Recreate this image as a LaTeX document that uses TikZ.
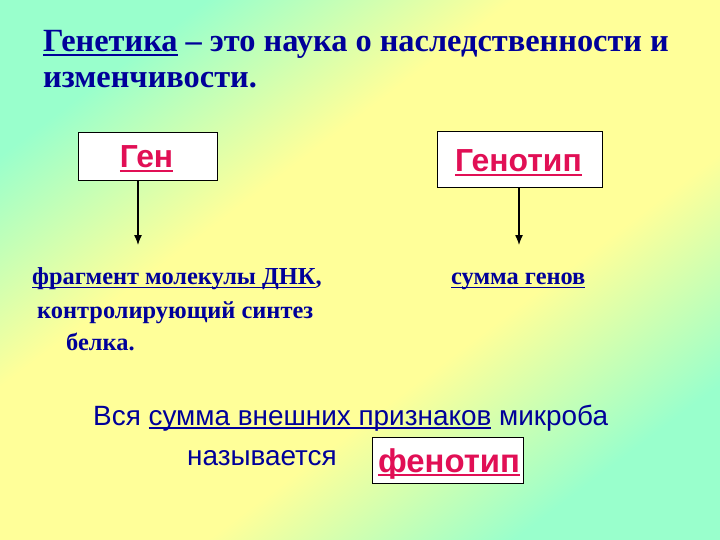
\documentclass[tikz,border=0pt]{standalone}
\usepackage{fontspec}
\setmainfont{Liberation Serif}
\setsansfont{Liberation Sans}
\usetikzlibrary{arrows.meta}
\definecolor{aq}{RGB}{153,255,204}
\definecolor{ye}{RGB}{255,255,153}
\definecolor{tblue}{RGB}{0,0,153}
\definecolor{tred}{RGB}{225,15,85}
\newcommand{\myul}[1]{\leavevmode\setbox0\hbox{#1}\rlap{\rule[-0.13em]{\wd0}{0.065em}}\box0\relax}
\pgfdeclarehorizontalshading{bgshade}{100bp}{color(0bp)=(aq); color(25bp)=(aq); color(40bp)=(ye); color(60bp)=(ye); color(75bp)=(aq); color(100bp)=(aq)}
\tikzset{
  serifbold/.style={text=tblue, font=\fontsize{24.5}{28}\selectfont\bfseries, inner sep=0pt, anchor=base west},
  titletext/.style={text=tblue, font=\fontsize{32.5}{38}\selectfont\bfseries, inner sep=0pt, anchor=base west},
  sanstext/.style={text=tblue, font=\fontsize{28}{32}\selectfont\sffamily, inner sep=0pt, anchor=base west},
  termbox/.style={draw=black, line width=1pt, fill=white, inner sep=0pt},
  termtext/.style={text=tred, inner sep=0pt, anchor=base},
  arr/.style={-{Latex[length=10pt,width=8pt]}, line width=1.3pt, black}
}
\begin{document}
\begin{tikzpicture}[x=1bp,y=-1bp]
\useasboundingbox (0,0) rectangle (720,540);
\shade[shading=bgshade, shading angle=-53] (0,0) rectangle (720,540);
% title
\node[titletext] (t1) at (43,52) {\myul{Генетика} – это наука о наследственности и};
\node[titletext] (t2) at (43,88) {изменчивости.};
% boxes
\node[termbox, minimum width=139bp, minimum height=48bp, anchor=north west] (gen) at (78,132) {};
\node[termtext, font=\fontsize{32}{34}\selectfont\sffamily\bfseries] (gent) at (146.5,168) {\myul{Ген}};
\node[termbox, minimum width=165bp, minimum height=56bp, anchor=north west] (genotype) at (437,131) {};
\node[termtext, font=\fontsize{32}{34}\selectfont\sffamily\bfseries] (genotypet) at (518.5,172) {\myul{Генотип}};
% arrow targets
\coordinate (a1) at (138,245);
\coordinate (a2) at (519,245);
\draw[arr] (gen.south -| a1) -- (a1);
\draw[arr] (genotype.south -| a2) -- (a2);
% descriptions
\node[serifbold] (d1) at (32,285) {\myul{фрагмент молекулы ДНК},};
\node[serifbold] (d2) at (37,318) {контролирующий синтез};
\node[serifbold] (d3) at (66,350) {белка.};
\node[serifbold] (d4) at (451,285) {\myul{сумма генов}};
% bottom
\node[sanstext] (b1) at (93,425) {Вся \myul{сумма внешних признаков} микроба};
\node[sanstext] (b2) at (187,465) {называется};
\node[termbox, minimum width=151bp, minimum height=46bp, anchor=north west] (pheno) at (372,437) {};
\node[termtext, font=\fontsize{33}{36}\selectfont\sffamily\bfseries] (phenot) at (449,472) {\myul{фенотип}};
\end{tikzpicture}
\end{document}
